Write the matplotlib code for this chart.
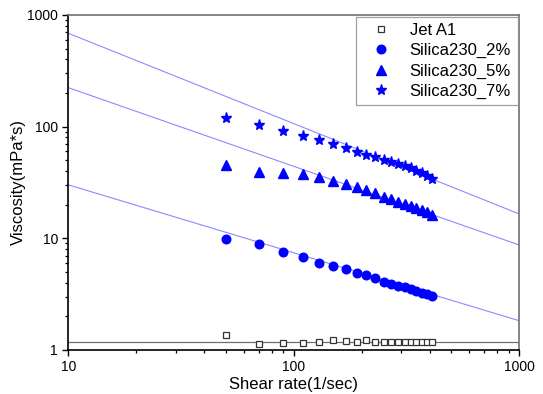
import numpy as np
import matplotlib
matplotlib.use("Agg")
import matplotlib.pyplot as plt
from matplotlib.ticker import FixedLocator, FixedFormatter, LogLocator, NullFormatter

plt.rcParams['font.family'] = ['Liberation Sans', 'DejaVu Sans']

# ---- data ----
shear_rate = [50, 70, 90, 110, 130, 150, 170, 190, 210, 230, 250, 270, 290, 310, 330, 350, 370, 390, 410]
jet_a1 = [1.36, 1.13, 1.155, 1.155, 1.19, 1.23, 1.21, 1.18, 1.22, 1.17, 1.19, 1.19, 1.19, 1.19, 1.19, 1.19, 1.19, 1.19, 1.19]
silica_2 = [9.94, 8.83, 7.54, 6.79, 6.00, 5.68, 5.26, 4.94, 4.68, 4.40, 4.10, 3.91, 3.76, 3.65, 3.53, 3.39, 3.27, 3.15, 3.05]
silica_5 = [45.6, 39.3, 38.2, 37.7, 35.2, 32.6, 30.4, 28.6, 26.9, 25.2, 23.5, 22.3, 21.1, 20.2, 19.4, 18.5, 17.9, 17.1, 16.2]
silica_7 = [119.8, 102.7, 90.8, 82.5, 75.3, 69.9, 64.3, 59.9, 56.3, 53.4, 50.5, 48.4, 46.2, 44.0, 42.2, 40.2, 38.4, 36.5, 33.9]

series_labels = ["Jet A1", "Silica230_2%", "Silica230_5%", "Silica230_7%"]

# power-law fit lines: eta = K * rate^(n-1)
fit_K = [1.18, 10 ** 2.0875, 10 ** 3.0535, 10 ** 3.645]
fit_n_minus_1 = [0.0, -0.6085, -0.7045, -0.809]

x_ticks = [10, 100, 1000]
x_tick_labels = ["10", "100", "1000"]
y_ticks = [1, 10, 100, 1000]
y_tick_labels = ["1", "10", "100", "1000"]

# ---- figure ----
fig = plt.figure(figsize=(5.43, 3.94), dpi=100)
ax = fig.add_axes([0.1258, 0.1117, 0.9563 - 0.1258, 0.962 - 0.1117])

xf = np.logspace(1, 3, 200)
for i, (K, m) in enumerate(zip(fit_K, fit_n_minus_1)):
    if i == 0:
        ax.plot(xf, K * xf ** m, color='#707070', lw=0.9, zorder=1)
    else:
        ax.plot(xf, K * xf ** m, color='#8a8aff', lw=0.8, zorder=1)

ax.plot(shear_rate, jet_a1, linestyle='none', marker='s', markersize=5.0,
        markerfacecolor='white', markeredgecolor='#333333', markeredgewidth=0.9,
        label=series_labels[0], zorder=3)
ax.plot(shear_rate, silica_2, linestyle='none', marker='o', markersize=6.2,
        color='#0000ff', label=series_labels[1], zorder=3)
ax.plot(shear_rate, silica_5, linestyle='none', marker='^', markersize=7,
        color='#0000ff', label=series_labels[2], zorder=3)
ax.plot(shear_rate, silica_7, linestyle='none', marker='*', markersize=8,
        color='#0000ff', label=series_labels[3], zorder=3)

ax.set_xscale('log')
ax.set_yscale('log')
ax.set_xlim(10, 1000)
ax.set_ylim(1, 1000)

ax.xaxis.set_major_locator(FixedLocator(x_ticks))
ax.xaxis.set_major_formatter(FixedFormatter(x_tick_labels))
ax.yaxis.set_major_locator(FixedLocator(y_ticks))
ax.yaxis.set_major_formatter(FixedFormatter(y_tick_labels))
ax.xaxis.set_minor_locator(LogLocator(base=10, subs=np.arange(2, 10)))
ax.yaxis.set_minor_locator(LogLocator(base=10, subs=np.arange(2, 10)))
ax.xaxis.set_minor_formatter(NullFormatter())
ax.yaxis.set_minor_formatter(NullFormatter())

ax.tick_params(which='major', direction='out', length=4.5, width=1.0,
               labelsize=10, pad=3, top=False, right=False, color='black')
ax.tick_params(which='minor', direction='out', length=2.5, width=0.9,
               top=False, right=False, color='black')

for s in ['left', 'bottom']:
    ax.spines[s].set_color('black')
    ax.spines[s].set_linewidth(1.2)
for s in ['top', 'right']:
    ax.spines[s].set_color('#707070')
    ax.spines[s].set_linewidth(1.2)

ax.set_xlabel("Shear rate(1/sec)", fontsize=12, labelpad=2)
ax.set_ylabel("Viscosity(mPa*s)", fontsize=12, labelpad=1)

leg = ax.legend(loc='upper right', fontsize=12, frameon=True, fancybox=False,
                edgecolor='#888888', borderaxespad=0.1, handletextpad=0.6,
                labelspacing=0.3, borderpad=0.4, handlelength=2.2)
leg.get_frame().set_linewidth(0.9)

fig.savefig("out.png", dpi=100)
